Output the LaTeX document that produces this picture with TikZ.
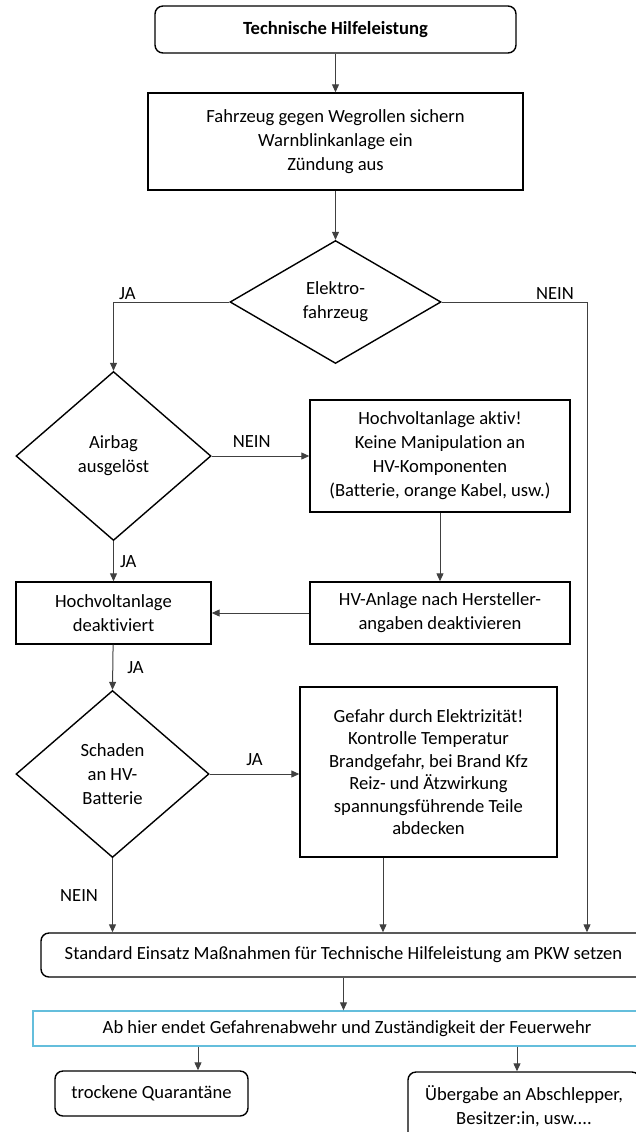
\documentclass[tikz,border=0pt]{standalone}
\usepackage{fontspec}
\setmainfont{Carlito}[Ligatures=NoCommon]
\usetikzlibrary{positioning}
\usetikzlibrary{arrows.meta}
\usetikzlibrary{calc}
\usetikzlibrary{shapes.geometric}

\definecolor{aqualine}{RGB}{100,190,220}

\tikzset{
    box/.style={draw, line width=0.7pt, align=center, inner sep=0pt},
    roundbox/.style={box, rounded corners=4pt},
    decision/.style={diamond, draw, line width=0.7pt, align=center, inner sep=0pt},
    flow/.style={draw=black!75, line width=0.5pt, -{Triangle[length=4pt,width=3.5pt]}},
    lab/.style={inner sep=1pt}
}

\begin{document}
\begin{tikzpicture}[x=0.5pt, y=-0.5pt, font=\fontsize{9.3}{12}\selectfont]
        \useasboundingbox (0,0) rectangle (636,1132);
        \clip (0,0) rectangle (636,1132);

        \node[roundbox, minimum width=180.5pt, minimum height=23.5pt, font=\fontsize{9.3}{12}\selectfont\bfseries, name=start] at (335.5,29.5) {Technische Hilfeleistung};
        \node[box, minimum width=187.5pt, minimum height=48.5pt, name=secure] at (335.5,141.5)
            {Fahrzeug gegen Wegrollen sichern\\Warnblinkanlage ein\\Zündung aus};
        \node[decision, minimum width=105.5pt, minimum height=61.5pt, name=ev] at (335.5,302) {Elektro-\\fahrzeug};

        \node[decision, minimum width=97.5pt, minimum height=84.5pt, name=airbag] at (113.5,456) {Airbag\\ausgelöst};
        \node[box, minimum width=130pt, minimum height=56pt, name=hvactive] at (440,456)
            {Hochvoltanlage aktiv!\\Keine Manipulation an\\HV-Komponenten\\(Batterie, orange Kabel, usw.)};
        \node[box, minimum width=130pt, minimum height=31pt, name=hvoff] at (440,613) {HV-Anlage nach Hersteller-\\angaben deaktivieren};
        \node[box, minimum width=97.5pt, minimum height=31pt, name=deact] at (113.5,613) {Hochvoltanlage\\deaktiviert};

        \node[decision, minimum width=96.5pt, minimum height=83.5pt, name=damage] at (112.5,774) {Schaden\\an HV-\\Batterie};
        \node[box, minimum width=128.5pt, minimum height=85pt, font=\fontsize{9.3}{11.2}\selectfont, name=danger] at (428.5,772)
            {Gefahr durch Elektrizität!\\Kontrolle Temperatur\\Brandgefahr, bei Brand Kfz\\Reiz- und Ätzwirkung\\spannungsführende Teile\\abdecken};

        \node[roundbox, minimum width=302.5pt, minimum height=22pt, name=standard] at (343.5,955)
            {Standard Einsatz Maßnahmen für Technische Hilfeleistung am PKW setzen};
        \node[box, draw=aqualine, minimum width=314pt, minimum height=17.5pt, name=border] at (347,1028.5)
            {Ab hier endet Gefahrenabwehr und Zuständigkeit der Feuerwehr};
        \node[roundbox, minimum width=96.5pt, minimum height=22.5pt, name=quar] at (151.5,1093.5) {trockene Quarantäne};
        \node[roundbox, minimum width=116pt, minimum height=34pt, name=handover] at (524,1106) {Übergabe an Abschlepper,\\Besitzer:in, usw....};

        \coordinate (evnein) at ($(standard.north)+(243.5,0)$);
        \coordinate (dangerout) at ($(danger.south)+(-45.5,0)$);
        \coordinate (quartop) at ($(quar.north)+(46.5,0)$);
        \coordinate (handtop) at ($(handover.north)+(-7,0)$);

        \draw[flow] (start) -- (secure);
        \draw[flow] (secure) -- (ev);
        \draw[flow] (ev.west) -| node[lab, pos=0.44, above] {JA} (airbag.north);
        \draw[flow] (ev.east) -| node[lab, pos=0.39, above] {NEIN} (evnein);

        \draw[flow] (airbag.east) -- node[lab, pos=0.41, above=3pt] {NEIN} (hvactive.west);
        \draw[flow] (airbag.south) -- node[lab, midway, right=2pt] {JA} (deact.north);
        \draw[flow] (hvactive) -- (hvoff);
        \draw[flow] (hvoff) -- (deact);
        \draw[flow] (deact) -- node[lab, midway, right=6pt] {JA} (damage.north);

        \draw[flow] (damage.east) -- node[lab, midway, above=3pt] {JA} (damage.east -| danger.west);
        \draw[flow] (damage.south) -- node[lab, midway, left=6pt] {NEIN} (damage.south |- standard.north);
        \draw[flow] (dangerout) -- (dangerout |- standard.north);

        \draw[flow] (standard.south) -- (standard.south |- border.north);
        \draw[flow] (border.south -| quartop) -- (quartop);
        \draw[flow] (border.south -| handtop) -- (handtop);
    \end{tikzpicture}
\end{document}
